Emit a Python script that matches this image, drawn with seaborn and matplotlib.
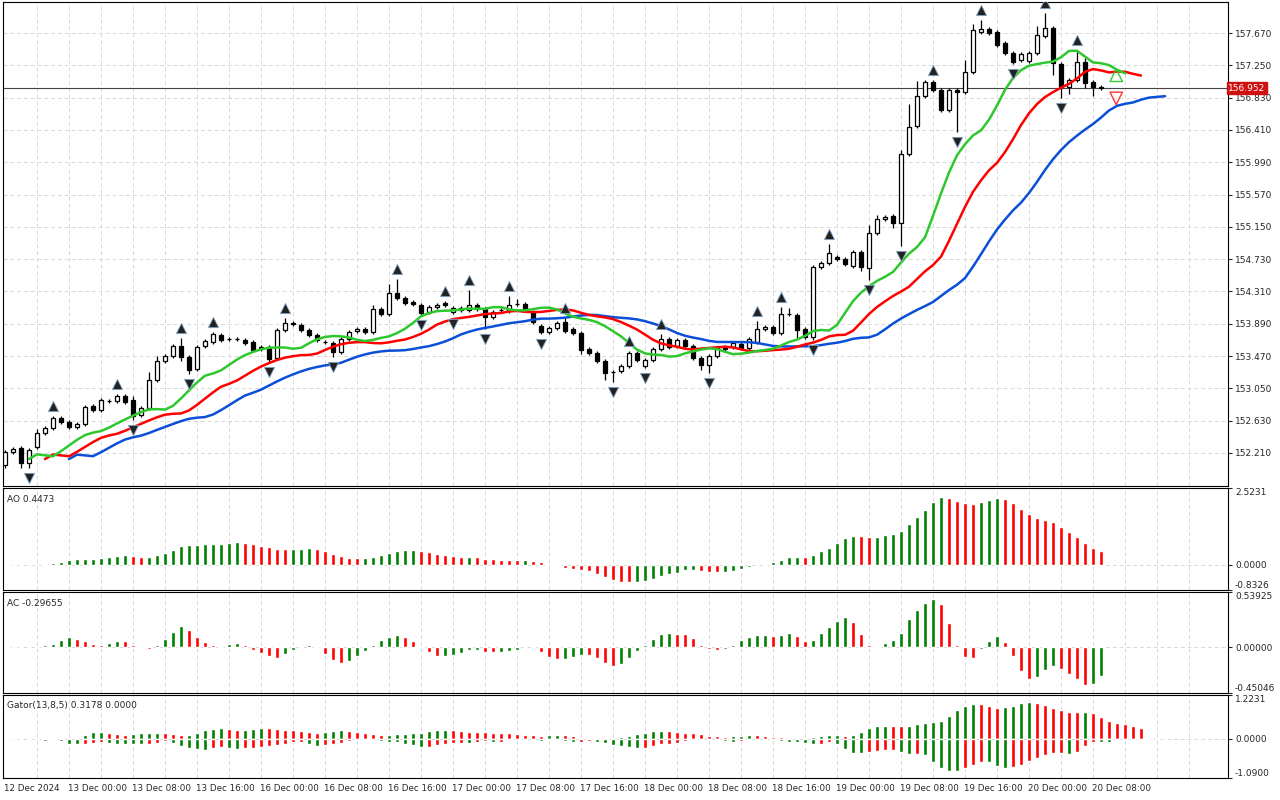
import numpy as np
import pandas as pd
import matplotlib
matplotlib.use("Agg")
import matplotlib.pyplot as plt
import seaborn as sns

opens = [152.054,152.223,152.275,152.080,152.288,152.470,152.535,152.665,152.613,152.548,
 152.587,152.821,152.769,152.886,152.886,152.951,152.899,152.704,152.795,153.159,
 153.406,153.471,153.601,153.458,153.302,153.601,153.653,153.744,153.692,153.690,
 153.679,153.653,153.588,153.588,153.445,153.809,153.900,153.874,153.809,153.744,
 153.653,153.640,153.523,153.692,153.796,153.822,153.783,154.082,154.017,154.290,
 154.225,154.173,154.134,154.043,154.108,154.160,154.043,154.095,154.069,154.134,
 154.082,153.978,154.069,154.056,154.147,154.147,154.043,153.861,153.783,153.835,
 153.913,153.822,153.770,153.562,153.510,153.406,153.263,153.276,153.341,153.510,
 153.341,153.419,153.562,153.692,153.601,153.679,153.601,153.445,153.354,153.471,
 153.588,153.588,153.627,153.575,153.653,153.822,153.848,153.770,154.017,154.004,
 153.822,153.718,154.628,154.680,154.758,154.732,154.641,154.823,154.615,155.070,
 155.252,155.291,155.200,156.097,156.461,156.851,157.033,156.929,156.669,156.929,
 156.903,157.163,157.683,157.722,157.683,157.540,157.410,157.319,157.306,157.410,
 157.631,157.735,157.267,156.968,157.059,157.293,157.033,156.968]
closes = [152.223,152.262,152.080,152.249,152.470,152.535,152.665,152.613,152.548,152.587,
 152.808,152.769,152.899,152.890,152.951,152.873,152.691,152.795,153.159,153.406,
 153.471,153.601,153.458,153.289,153.588,153.666,153.757,153.679,153.690,153.692,
 153.640,153.549,153.562,153.432,153.809,153.900,153.887,153.809,153.744,153.679,
 153.650,153.523,153.692,153.783,153.822,153.783,154.082,154.017,154.290,154.225,
 154.160,154.147,154.030,154.108,154.134,154.134,154.095,154.069,154.134,154.082,
 153.978,154.043,154.067,154.134,154.145,154.069,153.913,153.783,153.835,153.900,
 153.796,153.770,153.549,153.510,153.406,153.250,153.261,153.341,153.510,153.419,
 153.419,153.562,153.692,153.588,153.679,153.601,153.445,153.354,153.471,153.575,
 153.562,153.640,153.575,153.692,153.822,153.848,153.770,154.017,154.015,153.809,
 153.718,154.628,154.680,154.810,154.732,154.667,154.823,154.628,155.070,155.252,
 155.278,155.200,156.097,156.448,156.851,157.033,156.929,156.669,156.929,156.903,
 157.163,157.709,157.722,157.670,157.514,157.410,157.293,157.397,157.410,157.644,
 157.735,157.280,156.968,157.059,157.293,157.020,156.968,156.952]
# wick lengths (price units); default small wicks
upper_wick_big = {4:0.05,16:0.05,18:0.10,19:0.06,22:0.11,24:0.03,35:0.06,46:0.05,48:0.12,
 49:0.18,58:0.20,63:0.12,64:0.07,70:0.05,82:0.07,94:0.10,97:0.09,98:0.08,101:0.03,103:0.12,
 108:0.10,109:0.05,112:0.05,113:0.30,114:0.20,116:0.03,120:0.15,121:0.08,122:0.12,
 129:0.12,130:0.20,131:0.03,134:0.15,135:0.05}
lower_wick_big = {0:0.04,2:0.06,3:0.07,16:0.05,22:0.05,23:0.05,33:0.04,41:0.07,60:0.16,
 72:0.05,75:0.09,76:0.13,87:0.06,88:0.10,99:0.10,101:0.04,107:0.05,108:0.15,111:0.06,
 112:0.30,116:0.03,117:0.03,119:0.52,124:0.03,131:0.15,132:0.14,133:0.09,135:0.06,136:0.12}
time_labels = ["12 Dec 2024","13 Dec 00:00","13 Dec 08:00","13 Dec 16:00","16 Dec 00:00",
 "16 Dec 08:00","16 Dec 16:00","17 Dec 00:00","17 Dec 08:00","17 Dec 16:00","18 Dec 00:00",
 "18 Dec 08:00","18 Dec 16:00","19 Dec 00:00","19 Dec 08:00","19 Dec 16:00","20 Dec 00:00",
 "20 Dec 08:00"]
price_ticks = [157.670,157.250,156.830,156.410,155.990,155.570,155.150,154.730,154.310,
 153.890,153.470,153.050,152.630,152.210]
last_price = 156.952

n = len(closes)
o = np.array(opens); c = np.array(closes)
uw = np.array([upper_wick_big.get(i, 0.025) for i in range(n)])
lw = np.array([lower_wick_big.get(i, 0.025) for i in range(n)])
hi = np.maximum(o, c) + uw
lo = np.minimum(o, c) - lw
med = pd.Series((hi + lo) / 2)
idx = np.arange(n)

def smma(s, p):
    return s.ewm(alpha=1.0/p, adjust=True).mean()

jaw = smma(med, 13).values; teeth = smma(med, 8).values; lips = smma(med, 5).values
ao = (med.rolling(5, min_periods=1).mean() - med.rolling(34, min_periods=1).mean()).values
ac = ao - pd.Series(ao).rolling(5, min_periods=1).mean().values

sns.set_style("white")
plt.rcParams['font.family'] = ['DejaVu Sans']
fig = plt.figure(figsize=(12.8, 8), dpi=100)
L, W = 3/1280, 1225/1280
def mkax(top, bot):
    return fig.add_axes([L, 1 - bot/800, W, (bot - top)/800])
ax = mkax(2, 486); axao = mkax(488, 590); axac = mkax(592, 693); axg = mkax(695, 778)
xmin, xmax = -0.25, (1228 - 5) / 8

GREEN = "#008000"; RED = "#ff0000"
def style(a, ylo, yhi, ticks, fmt, edge=False):
    a.set_xlim(xmin, xmax); a.set_ylim(ylo, yhi)
    a.yaxis.tick_right()
    a.set_yticks(ticks)
    labs = a.set_yticklabels([fmt % t for t in ticks], fontsize=6.5)
    if edge:
        labs[0].set_va("top"); labs[-1].set_va("bottom")
    a.tick_params(axis='y', length=3, pad=2, direction='out')
    a.set_xticks(np.arange(4, 150, 4))
    a.tick_params(axis='x', length=0, labelbottom=False)
    a.grid(True, color="#d8d8d8", linestyle=(0, (4, 3)), linewidth=0.7)
    for s in a.spines.values():
        s.set_color("black"); s.set_linewidth(0.8)

# main chart
style(ax, 151.781, 158.073, price_ticks, "%.3f")
ax.vlines(idx, lo, hi, color="black", linewidth=0.9, zorder=3)
up = c >= o
body_b = np.minimum(o, c); body_h = np.maximum(np.abs(c - o), 0.006)
ax.bar(idx[up], body_h[up], bottom=body_b[up], width=0.62, color="white", edgecolor="black", linewidth=0.9, zorder=4)
ax.bar(idx[~up], body_h[~up], bottom=body_b[~up], width=0.62, color="black", edgecolor="black", linewidth=0.9, zorder=4)
sns.lineplot(x=idx + 8, y=jaw, ax=ax, color="#0b4fd8", linewidth=1.8, zorder=5)
sns.lineplot(x=idx + 5, y=teeth, ax=ax, color="#ff0000", linewidth=1.8, zorder=5)
sns.lineplot(x=idx + 3, y=lips, ax=ax, color="#2ec82e", linewidth=1.8, zorder=5)
# fractals
for i in range(2, n - 2):
    if hi[i] == max(hi[i-2:i+3]) and hi[i] > hi[i-1]:
        ax.scatter(i, hi[i] + 0.13, marker="^", s=55, color="#222222", edgecolor="#88aacc", linewidth=0.6, zorder=6)
    if lo[i] == min(lo[i-2:i+3]) and lo[i] < lo[i-1]:
        ax.scatter(i, lo[i] - 0.13, marker="v", s=55, color="#222222", edgecolor="#88aacc", linewidth=0.6, zorder=6)
ax.scatter([138.9], [157.12], marker="^", s=80, facecolor="none", edgecolor="#33cc33", linewidth=1.0, zorder=6)
ax.scatter([138.9], [156.82], marker="v", s=80, facecolor="none", edgecolor="#ff3333", linewidth=1.0, zorder=6)
ax.axhline(last_price, color="#444444", linewidth=0.8, zorder=2)
ax.text(1.0, last_price, "%.3f" % last_price, transform=ax.get_yaxis_transform(), fontsize=6.5,
        color="white", va="center", ha="left",
        bbox=dict(boxstyle="square,pad=0.15", fc="#d01010", ec="#d01010"), zorder=10)

# AO
style(axao, -0.8326, 2.5231, [2.5231, 0.0, -0.8326], "%.4f", edge=True)
aoc = [GREEN if i == 0 or ao[i] >= ao[i-1] else RED for i in range(n)]
axao.bar(idx, ao, width=0.55, color=aoc)
axao.text(0.003, 0.93, "AO %.4f" % 0.4473, transform=axao.transAxes, fontsize=6.5, va="top")

# AC
style(axac, -0.45046, 0.53925, [0.53925, 0.0, -0.45046], "%.5f", edge=True)
acc = [GREEN if i == 0 or ac[i] >= ac[i-1] else RED for i in range(n)]
axac.bar(idx, ac, width=0.55, color=acc)
axac.text(0.003, 0.93, "AC -0.29655", transform=axac.transAxes, fontsize=6.5, va="top")

# Gator
style(axg, -1.09, 1.2231, [1.2231, 0.0, -1.0900], "%.4f", edge=True)
m = n + 8
jaw_s = np.full(m, np.nan); teeth_s = np.full(m, np.nan); lips_s = np.full(m, np.nan)
jaw_s[8:8+n] = jaw; teeth_s[5:5+n] = teeth; lips_s[3:3+n] = lips
gu = np.abs(jaw_s - teeth_s); gd = -np.abs(teeth_s - lips_s)
gx = np.arange(m)
gu_c = [GREEN if i == 0 or not (gu[i] < gu[i-1]) else RED for i in range(m)]
gd_c = [GREEN if i == 0 or not (abs(gd[i]) < abs(gd[i-1])) else RED for i in range(m)]
axg.bar(gx, np.nan_to_num(gu), width=0.55, color=gu_c)
axg.bar(gx, np.nan_to_num(gd), width=0.55, color=gd_c)
axg.text(0.003, 0.93, "Gator(13,8,5) 0.3178 0.0000", transform=axg.transAxes, fontsize=6.5, va="top")

for k, lab in enumerate(time_labels):
    axg.text(k * 8 - 0.1, -0.13, lab, transform=axg.get_xaxis_transform(), fontsize=6.3, ha="left", va="center")

fig.savefig("out.png", dpi=100)
